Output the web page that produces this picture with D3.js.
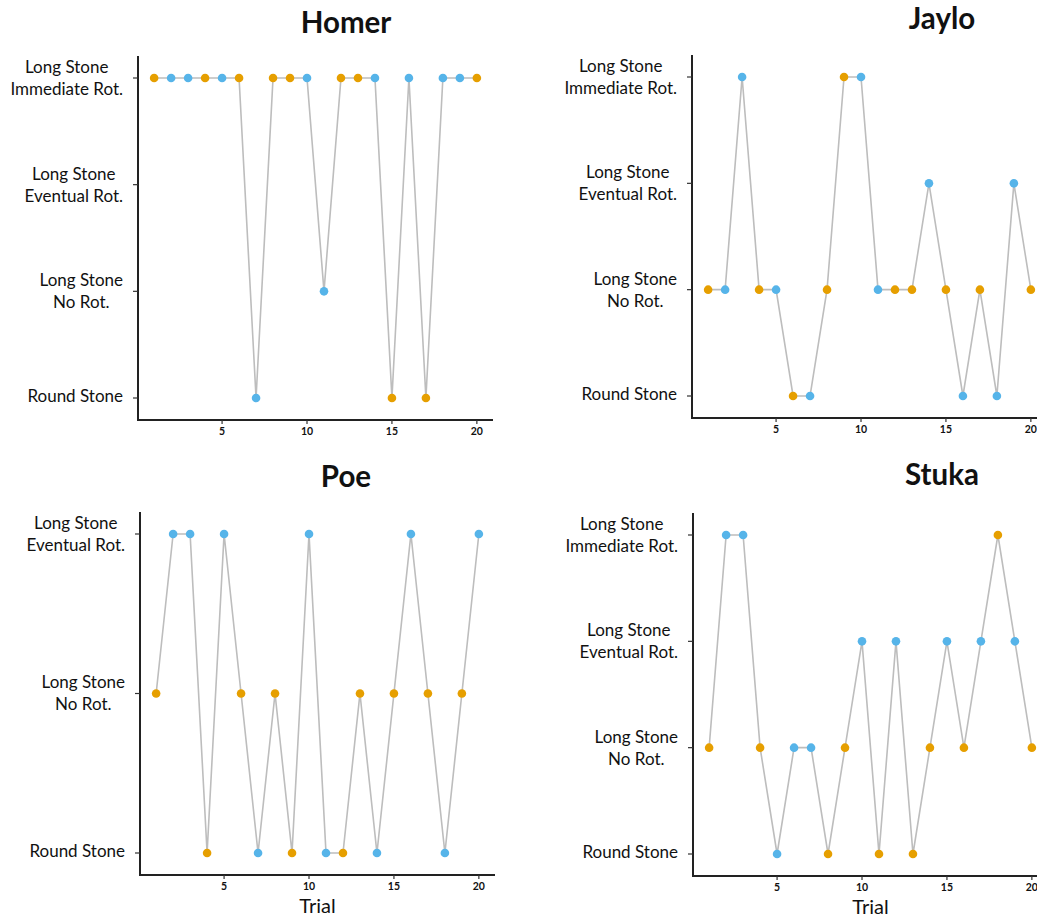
<!DOCTYPE html>
<html>
<head>
<meta charset="utf-8">
<script src="https://cdn.jsdelivr.net/npm/d3@7"></script>
<style>
  html, body { margin: 0; padding: 0; background: #fff; }
  svg { display: block; }
  .ylab { font-family: Lato, "Open Sans", sans-serif; font-size: 17px; fill: #111; }
  .xlab { font-family: Lato, "Open Sans", sans-serif; font-size: 10.5px; font-weight: 700; fill: #111; }
  .title { font-family: Lato, "Open Sans", sans-serif; font-size: 29.5px; font-weight: 700; fill: #111; }
  .axtitle { font-family: Lato, "Open Sans", sans-serif; font-size: 20px; fill: #111; }
</style>
</head>
<body>
<svg id="chart" width="1037" height="917"></svg>
<script>
// Trial numbers shared by every subject
const trials = [1, 2, 3, 4, 5, 6, 7, 8, 9, 10, 11, 12, 13, 14, 15, 16, 17, 18, 19, 20];
const xTicks = [5, 10, 15, 20];

// Outcome categories, bottom to top
const outcomes4 = ["Round Stone", "Long Stone No Rot.", "Long Stone Eventual Rot.", "Long Stone Immediate Rot."];
const outcomes3 = ["Round Stone", "Long Stone No Rot.", "Long Stone Eventual Rot."];

// Codes: R = Round Stone, N = No Rot., E = Eventual Rot., I = Immediate Rot.
const codeToOutcome = { R: "Round Stone", N: "Long Stone No Rot.", E: "Long Stone Eventual Rot.", I: "Long Stone Immediate Rot." };

// Per-trial outcome and condition (o = orange, b = blue)
const homerOutcome = ["I","I","I","I","I","I","R","I","I","I","N","I","I","I","R","I","R","I","I","I"];
const homerCond    = ["o","b","b","o","b","o","b","o","o","b","b","o","o","b","o","b","o","b","b","o"];

const jayloOutcome = ["N","N","I","N","N","R","R","N","I","I","N","N","N","E","N","R","N","R","E","N"];
const jayloCond    = ["o","b","b","o","b","o","b","o","o","b","b","o","o","b","o","b","o","b","b","o"];

const poeOutcome   = ["N","E","E","R","E","N","R","N","R","E","R","R","N","R","N","E","N","R","N","E"];
const poeCond      = ["o","b","b","o","b","o","b","o","o","b","b","o","o","b","o","b","o","b","o","b"];

const stukaOutcome = ["N","I","I","N","R","N","N","R","N","E","R","E","R","N","E","N","E","I","E","N"];
const stukaCond    = ["o","b","b","o","b","b","b","o","o","b","o","b","o","o","b","o","b","o","b","o"];

const condColor = { o: "#E69F00", b: "#56B4E9" };

// Panel layout
const panels = [
  { name: "Homer", outcome: homerOutcome, cond: homerCond, cats: outcomes4, left: 138, top: 56, bottom: 420, titleX: 346, titleY: 33, xTitle: false },
  { name: "Jaylo", outcome: jayloOutcome, cond: jayloCond, cats: outcomes4, left: 692, top: 55, bottom: 418, titleX: 942, titleY: 29, xTitle: false },
  { name: "Poe",   outcome: poeOutcome,   cond: poeCond,   cats: outcomes3, left: 140, top: 512, bottom: 875, titleX: 346, titleY: 487, xTitle: true },
  { name: "Stuka", outcome: stukaOutcome, cond: stukaCond, cats: outcomes4, left: 693, top: 513, bottom: 876, titleX: 942, titleY: 485, xTitle: true }
];

const plotW = 355;
const svg = d3.select("#chart");

function labelLines(name) {
  if (name.startsWith("Long Stone ")) return ["Long Stone", name.slice(11)];
  return [name];
}

panels.forEach(p => {
  const h = p.bottom - p.top;
  const g = svg.append("g").attr("transform", `translate(${p.left},${p.top})`);

  const x = d3.scaleLinear().domain([0.05, 20.95]).range([0, plotW]);
  const y = d3.scalePoint().domain(p.cats).range([h - 22, 22]);

  const data = trials.map((t, i) => ({ trial: t, outcome: codeToOutcome[p.outcome[i]], cond: p.cond[i] }));

  // Y axis: line, ticks and two-line category labels
  g.append("line").attr("x1", 0).attr("x2", 0).attr("y1", 0).attr("y2", h)
    .attr("stroke", "#222").attr("stroke-width", 2);
  p.cats.forEach(c => {
    g.append("line").attr("x1", -5).attr("x2", 0).attr("y1", y(c)).attr("y2", y(c))
      .attr("stroke", "#333").attr("stroke-width", 1.2);
    const lines = labelLines(c);
    const t = g.append("text").attr("class", "ylab");
    const tspans = lines.map((ln, k) => t.append("tspan").text(ln)
      .attr("y", y(c) + (lines.length === 1 ? -2 : (k === 0 ? -11 : 11)))
      .attr("dy", "0.35em"));
    const widths = tspans.map(s => s.node().getComputedTextLength());
    const maxW = d3.max(widths);
    const cx = -15 - maxW / 2;
    tspans.forEach(s => s.attr("x", cx).attr("text-anchor", "middle"));
  });

  // X axis
  g.append("line").attr("x1", -1).attr("x2", plotW).attr("y1", h).attr("y2", h)
    .attr("stroke", "#222").attr("stroke-width", 2);
  xTicks.forEach(v => {
    g.append("line").attr("x1", x(v)).attr("x2", x(v)).attr("y1", h).attr("y2", h + 4)
      .attr("stroke", "#333").attr("stroke-width", 1.2);
    g.append("text").attr("class", "xlab").attr("x", x(v)).attr("y", h + 15)
      .attr("text-anchor", "middle").text(v);
  });

  // Connecting line
  const line = d3.line().x(d => x(d.trial)).y(d => y(d.outcome));
  g.append("path").datum(data).attr("d", line)
    .attr("fill", "none").attr("stroke", "#bdbdbd").attr("stroke-width", 1.6);

  // Points
  g.selectAll("circle.pt").data(data).join("circle").attr("class", "pt")
    .attr("cx", d => x(d.trial)).attr("cy", d => y(d.outcome)).attr("r", 4.3)
    .attr("fill", d => condColor[d.cond]);

  // Titles
  svg.append("text").attr("class", "title").attr("x", p.titleX).attr("y", p.titleY)
    .attr("text-anchor", "middle").text(p.name);

  if (p.xTitle) {
    svg.append("text").attr("class", "axtitle").attr("x", p.left + plotW / 2).attr("y", p.bottom + 38)
      .attr("text-anchor", "middle").text("Trial");
  }
});
</script>
</body>
</html>
